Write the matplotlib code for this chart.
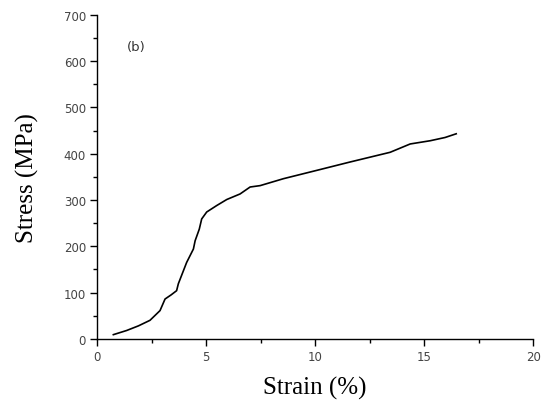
import matplotlib.pyplot as plt
from matplotlib.ticker import MultipleLocator

# tensile curve, strain (%) vs stress (MPa)
strain = [0.75, 1.36, 1.9, 2.43, 2.89, 3.12, 3.4, 3.65, 3.73, 4.11, 4.42, 4.5,
          4.69, 4.8, 5.03, 5.49, 5.95, 6.56, 7.02, 7.48, 8.55, 10.08, 11.6,
          13.44, 14.36, 15.28, 15.96, 16.47]
stress = [9, 18, 28, 40, 61, 86, 95, 104, 119, 165, 194, 212,
          237, 259, 274, 288, 301, 313, 328, 331, 346, 364, 382,
          403, 421, 428, 435, 443]

fig = plt.figure(figsize=(5.48, 4.06), dpi=100)
ax = fig.add_axes([0.177, 0.163, 0.796, 0.798])

ax.plot(strain, stress, color="black", lw=1.2)

ax.set_xlim(0, 20)
ax.set_ylim(0, 700)
ax.xaxis.set_major_locator(MultipleLocator(5))
ax.xaxis.set_minor_locator(MultipleLocator(2.5))
ax.yaxis.set_major_locator(MultipleLocator(100))
ax.yaxis.set_minor_locator(MultipleLocator(50))

for side in ("top", "right"):
    ax.spines[side].set_visible(False)
for side in ("left", "bottom"):
    ax.spines[side].set_linewidth(1.0)

ax.tick_params(which="major", direction="out", length=5, width=1.0,
               labelsize=8.5, labelcolor="#444444", pad=3)
ax.tick_params(which="minor", direction="out", length=3, width=1.0)

ax.set_xlabel("Strain (%)", family="Liberation Serif", fontsize=18, labelpad=9)
ax.set_ylabel("Stress (MPa)", family="Liberation Serif", fontsize=18, labelpad=18)

ax.text(1.35, 632, "(b)", fontsize=9.5, color="#333333", va="center")

fig.savefig("out.png", dpi=100)
